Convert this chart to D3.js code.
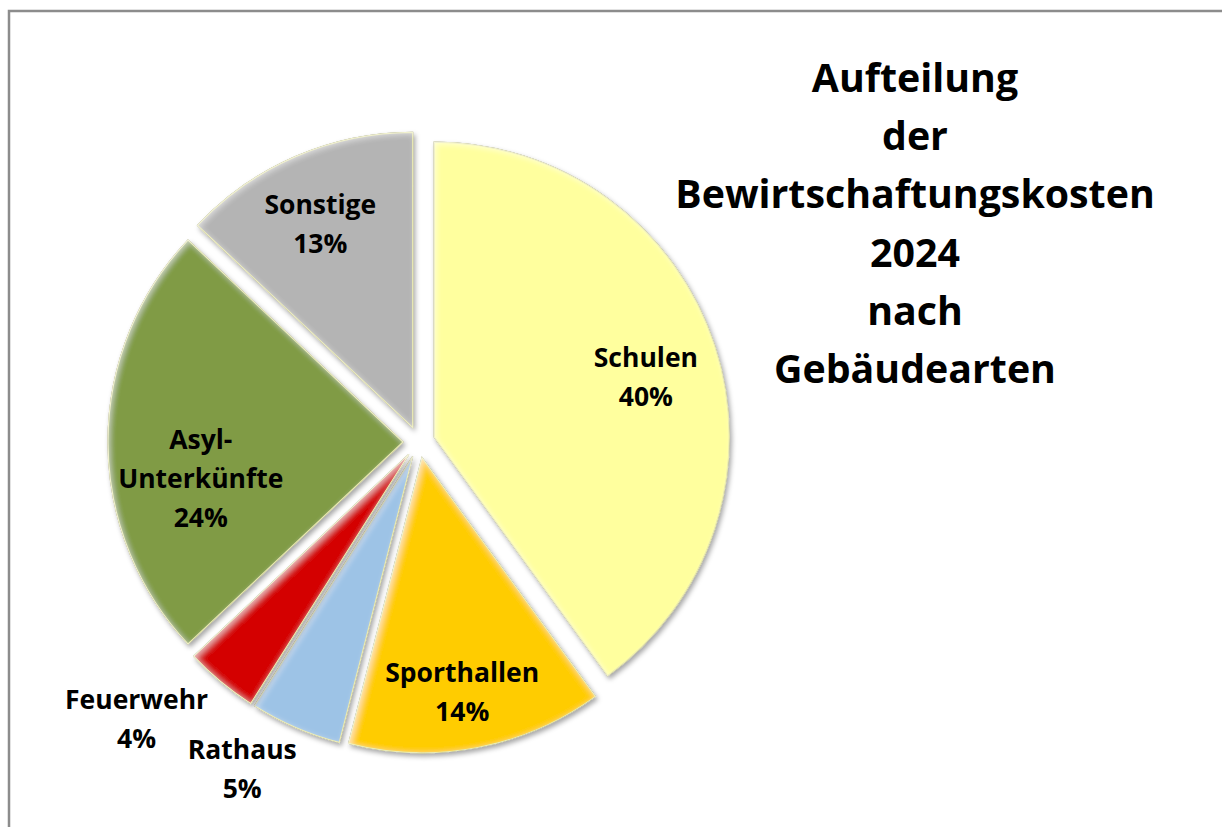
<!DOCTYPE html>
<html>
<head>
<meta charset="utf-8">
<script src="https://cdn.jsdelivr.net/npm/d3@7"></script>
<style>
  body { margin: 0; background: #fff; }
  svg { display: block; font-family: "Open Sans", sans-serif; font-weight: bold; }
</style>
</head>
<body>
<div id="chart"></div>
<script>
// data
const categories = ["Schulen", "Sporthallen", "Rathaus", "Feuerwehr", "Asyl-Unterkünfte", "Sonstige"];
const labelLines = [["Schulen"], ["Sporthallen"], ["Rathaus"], ["Feuerwehr"], ["Asyl-", "Unterkünfte"], ["Sonstige"]];
const shares = [40, 14, 5, 4, 24, 13];
const titleLines = ["Aufteilung", "der", "Bewirtschaftungskosten", "2024", "nach", "Gebäudearten"];

// layout
const width = 1222, height = 827;
const cx = 419, cy = 442, R = 295, explode = 16;
// label radius (fraction of R) and small angle turn (degrees) per slice
const labelRadius = [0.80, 0.86, 1.26, 1.34, 0.75, 0.81];
const labelTurn = [2, 1, 5, 6, -9.5, -1];
const lineGap = 39;

const color = d3.scaleOrdinal()
  .domain(categories)
  .range(["#ffff9e", "#ffcc00", "#9dc3e6", "#d40000", "#809b45", "#b4b4b4"]);

const svg = d3.select("#chart").append("svg")
  .attr("width", width)
  .attr("height", height);

// soft bevel + shadow
const defs = svg.append("defs");
const f = defs.append("filter").attr("id", "bevel")
  .attr("x", "-10%").attr("y", "-10%").attr("width", "130%").attr("height", "130%");
f.append("feGaussianBlur").attr("in", "SourceAlpha").attr("stdDeviation", 3).attr("result", "blur");
f.append("feOffset").attr("in", "blur").attr("dx", 2).attr("dy", 2).attr("result", "blurOff");
f.append("feComposite").attr("in", "SourceAlpha").attr("in2", "blurOff").attr("operator", "out").attr("result", "edge");
f.append("feFlood").attr("flood-color", "#ffffff").attr("flood-opacity", 0.55);
f.append("feComposite").attr("in2", "edge").attr("operator", "in").attr("result", "hl");
f.append("feDropShadow").attr("in", "SourceAlpha").attr("dx", 2).attr("dy", 3)
  .attr("stdDeviation", 2.5).attr("flood-color", "#000").attr("flood-opacity", 0.35).attr("result", "shadow");
const merge = f.append("feMerge");
merge.append("feMergeNode").attr("in", "shadow");
merge.append("feMergeNode").attr("in", "SourceGraphic");
merge.append("feMergeNode").attr("in", "hl");

// frame
svg.append("rect")
  .attr("x", 9).attr("y", 11)
  .attr("width", width + 20).attr("height", height + 20)
  .attr("fill", "none")
  .attr("stroke", "#8c8c8c")
  .attr("stroke-width", 2.5);

const rows = categories.map((c, i) => ({ cat: c, v: shares[i], lines: labelLines[i], i: i }));

const pie = d3.pie().sort(null).value(d => d.v);
const arc = d3.arc().innerRadius(0).outerRadius(R);
const arcs = pie(rows);

const g = svg.append("g").attr("transform", `translate(${cx},${cy})`);

g.selectAll("path.slice")
  .data(arcs)
  .enter()
  .append("path")
  .attr("class", "slice")
  .attr("transform", d => {
    const m = (d.startAngle + d.endAngle) / 2;
    return `translate(${Math.sin(m) * explode},${-Math.cos(m) * explode})`;
  })
  .attr("d", arc)
  .attr("fill", d => color(d.data.cat))
  .attr("stroke", "#e8e8a8")
  .attr("stroke-width", 1.2)
  .attr("filter", "url(#bevel)");

// slice labels
const labels = g.selectAll("g.lbl")
  .data(arcs)
  .enter()
  .append("g")
  .attr("class", "lbl")
  .attr("transform", d => {
    const m = (d.startAngle + d.endAngle) / 2 + labelTurn[d.data.i] * Math.PI / 180;
    const r = labelRadius[d.data.i] * R;
    return `translate(${Math.sin(m) * r},${-Math.cos(m) * r})`;
  });

labels.each(function(d) {
  const lines = d.data.lines.concat([d.data.v + "%"]);
  const t = d3.select(this).append("text")
    .attr("text-anchor", "middle")
    .attr("font-size", 26.5)
    .attr("fill", "#000");
  const y0 = -(lines.length - 1) * lineGap / 2 + 9.5;
  lines.forEach((s, k) => {
    t.append("tspan").attr("x", 0).attr("y", y0 + k * lineGap).text(s);
  });
});

// title
svg.append("text")
  .attr("text-anchor", "middle")
  .attr("font-size", 39.3)
  .attr("fill", "#000")
  .selectAll("tspan")
  .data(titleLines)
  .enter()
  .append("tspan")
  .attr("x", 915)
  .attr("y", (d, i) => 92 + i * 58.2)
  .text(d => d);
</script>
</body>
</html>
